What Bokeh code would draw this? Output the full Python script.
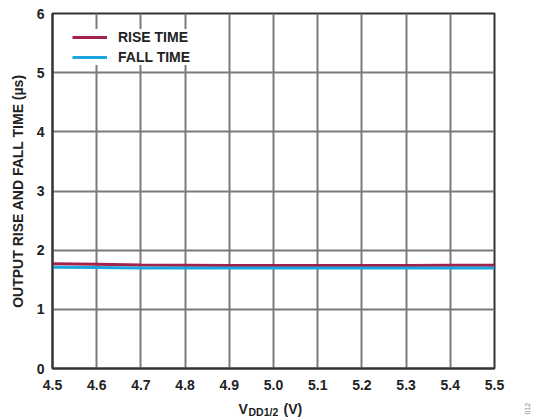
from bokeh.plotting import figure
from bokeh.layouts import column
from bokeh.models import Range1d, Legend, LegendItem, FixedTicker, NumeralTickFormatter
from bokeh.core.properties import value
from bokeh.embed import file_html
from bokeh.resources import INLINE

vdd = [4.5, 4.6, 4.7, 4.8, 4.9, 5.0, 5.1, 5.2, 5.3, 5.4, 5.5]
rise_time = [1.77, 1.76, 1.75, 1.745, 1.74, 1.74, 1.74, 1.74, 1.74, 1.745, 1.745]
fall_time = [1.71, 1.705, 1.70, 1.70, 1.70, 1.70, 1.70, 1.70, 1.70, 1.70, 1.70]
x_ticks = [4.5, 4.6, 4.7, 4.8, 4.9, 5.0, 5.1, 5.2, 5.3, 5.4, 5.5]
y_ticks = [0, 1, 2, 3, 4, 5, 6]

FONT = "Liberation Sans"
TXT = "#222222"

p = figure(width=533, height=395, output_backend="svg", toolbar_location=None,
           x_range=Range1d(4.5, 5.5), y_range=Range1d(0, 6),
           min_border_left=52, min_border_right=39, min_border_top=13, min_border_bottom=27)
p.background_fill_color = "white"
p.border_fill_color = "white"
p.outline_line_color = "#333333"
p.outline_line_width = 2

for ax in (p.xaxis[0], p.yaxis[0]):
    ax.major_label_text_font = FONT
    ax.major_label_text_font_style = "bold"
    ax.major_label_text_font_size = "14px"
    ax.major_label_text_color = TXT
    ax.axis_line_color = "#333333"
    ax.axis_line_width = 2
    ax.major_tick_in = 0
    ax.major_tick_out = 0
    ax.minor_tick_in = 0
    ax.minor_tick_out = 0
    ax.axis_label_text_font = FONT
    ax.axis_label_text_font_style = "bold"
    ax.axis_label_text_font_size = "14px"
    ax.axis_label_text_color = TXT

p.xaxis.ticker = FixedTicker(ticks=x_ticks)
p.xaxis.formatter = NumeralTickFormatter(format="0.0")
p.yaxis.ticker = FixedTicker(ticks=y_ticks)
p.xaxis.major_label_standoff = 11
p.yaxis.major_label_standoff = 8
p.yaxis.axis_label = "OUTPUT RISE AND FALL TIME (\u00b5s)"
p.yaxis.axis_label_standoff = 8

p.xgrid.ticker = FixedTicker(ticks=x_ticks)
p.ygrid.ticker = FixedTicker(ticks=y_ticks)
for g in (p.xgrid[0], p.ygrid[0]):
    g.grid_line_color = "#7a7a7a"
    g.grid_line_width = 2

r1 = p.line(vdd, rise_time, line_color="#a3224c", line_width=3)
r2 = p.line(vdd, fall_time, line_color="#1ba6dd", line_width=3)

legend = Legend(items=[LegendItem(label="RISE TIME", renderers=[r1]),
                       LegendItem(label="FALL TIME", renderers=[r2])],
                location=(20, 303))
legend.margin = 0
legend.padding = 6
legend.spacing = 4
legend.glyph_width = 35
legend.glyph_height = 14
legend.label_standoff = 11
legend.label_height = 14
legend.label_text_font = FONT
legend.label_text_font_style = "bold"
legend.label_text_font_size = "14px"
legend.label_text_color = TXT
legend.border_line_color = None
legend.background_fill_color = "white"
legend.background_fill_alpha = 1.0
p.add_layout(legend, "center")

# strip below the chart holding the x-axis title (with subscript) and the figure code.
q = figure(frame_width=481, frame_height=24, output_backend="svg", toolbar_location=None,
           x_range=Range1d(52, 533), y_range=Range1d(419, 395),
           x_axis_location=None, y_axis_location=None,
           min_border_left=52, min_border_right=0, min_border_top=0, min_border_bottom=0)
q.grid.visible = False
q.outline_line_color = None
q.background_fill_color = "white"
q.border_fill_color = "white"

q.text(x=[238], y=[408], text=["V"], text_font=value(FONT), text_font_style="bold",
       text_font_size="14px", text_color=TXT, text_baseline="alphabetic")
q.text(x=[248], y=[411], text=["DD1/2"], text_font=value(FONT), text_font_style="bold",
       text_font_size="10.5px", text_color=TXT, text_baseline="alphabetic")
q.text(x=[283], y=[408], text=["(V)"], text_font=value(FONT), text_font_style="bold",
       text_font_size="14px", text_color=TXT, text_baseline="alphabetic")
q.text(x=[527], y=[414], text=["012"], angle=1.5708, text_font=value(FONT),
       text_font_size="7px", text_color="#888888", text_baseline="alphabetic")

layout = column(p, q, spacing=0)
open("out.html", "w").write(file_html(layout, INLINE))
